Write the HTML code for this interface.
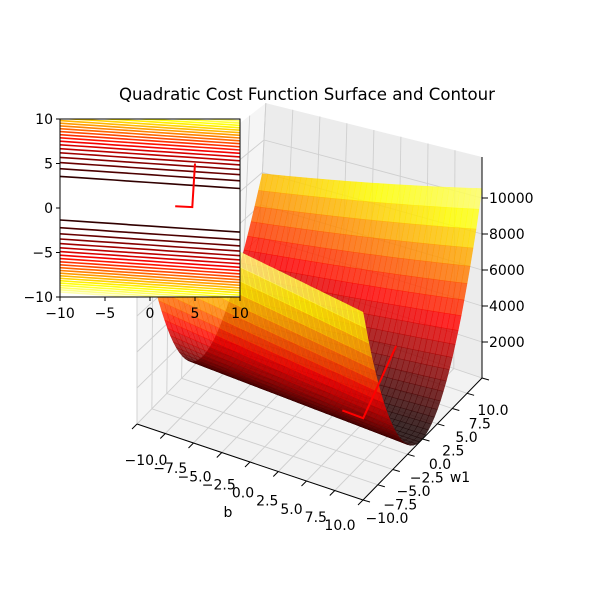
<!DOCTYPE html>
<html><head><meta charset="utf-8"><style>
html,body{margin:0;padding:0;background:#fff;}
svg{display:block;font-family:"DejaVu Sans","Liberation Sans",sans-serif;}
</style></head><body>
<svg id="chart" width="600" height="594" viewBox="0 0 600 594" xmlns="http://www.w3.org/2000/svg">
<text x="307" y="100" font-size="16.6" text-anchor="middle" fill="#000">Quadratic Cost Function Surface and Contour</text>
<g id="panes"></g>
<g id="surface"></g>
<g id="path3d"></g>
<g id="axes3d"></g>
<g id="inset"></g>
</svg>
<script>
// ---- data ----
const bTicks = [-10,-7.5,-5,-2.5,0,2.5,5,7.5,10];
const w1Ticks = [-10,-7.5,-5,-2.5,0,2.5,5,7.5,10];
const zTicks = [2000,4000,6000,8000,10000];
const pathB = [2.8, 4.7, 5.0];
const pathW1 = [0.2, 0.1, 5.0];
const insetTicks = [-10,-5,0,5,10];
const contourLevels = [600,1100,1600,2100,2600,3100,3600,4100,4600,5100,5600,6100,6600,7100,7600,8100,8600,9100,9600,10100,10600,11100];

const NS = "http://www.w3.org/2000/svg";
function mk(tag, attrs, parent){ const e=document.createElementNS(NS,tag); for(const k in attrs) e.setAttribute(k,attrs[k]); if(parent) parent.appendChild(e); return e; }

function center(b){ return 0.42 - 0.068*b; }
function cost(b,w1){ const d = w1 - center(b); return 100*d*d; }

const ZMAX = 12280;
function P(b,w1,z){
  const u=(b+10)/20, v=(w1+10)/20;
  const s = 1 + 0.1*(u - v);
  return [137 + u*226 + v*119 + 8*v*(1-u)*z/10000, 424 + u*76 - v*122 - z*0.018*s];
}
function hot(x){
  x=Math.max(0,Math.min(1,x));
  const r=Math.min(1,x/0.365), g=Math.max(0,Math.min(1,(x-0.365)/0.375)), b=Math.max(0,Math.min(1,(x-0.74)/0.26));
  return `rgb(${Math.round(r*255)},${Math.round(g*255)},${Math.round(b*255)})`;
}
const pt = p => p[0].toFixed(1)+","+p[1].toFixed(1);

// ---- panes ----
const panes = document.getElementById('panes');
function poly(pts, attrs, parent){ return mk('polygon', Object.assign({points: pts.map(pt).join(' ')}, attrs), parent); }
const floor = poly([P(-10,-10,0),P(10,-10,0),P(10,10,0),P(-10,10,0)],{fill:'#f2f2f2',stroke:'none'},panes);
 
const back = poly([P(-10,10,0),P(10,10,0),P(10,10,ZMAX),P(-10,10,ZMAX)],{fill:'#ececec',stroke:'none'},panes);
 
const left = poly([P(-10,-10,0),P(-10,10,0),P(-10,10,ZMAX),P(-10,-10,ZMAX)],{fill:'#f5f5f5',stroke:'none'},panes);
 
function line(a,b,attrs,parent){ return mk('line',Object.assign({x1:a[0].toFixed(1),y1:a[1].toFixed(1),x2:b[0].toFixed(1),y2:b[1].toFixed(1)},attrs),parent); }
const gs={stroke:'#cfcfcf','stroke-width':0.9};
bTicks.forEach(t=>{ line(P(t,-10,0),P(t,10,0),gs,panes); line(P(t,10,0),P(t,10,ZMAX),gs,panes); });
w1Ticks.forEach(t=>{ line(P(-10,t,0),P(10,t,0),gs,panes); line(P(-10,t,0),P(-10,t,ZMAX),gs,panes); });
zTicks.forEach(t=>{ line(P(-10,10,t),P(10,10,t),gs,panes); line(P(-10,-10,t),P(-10,10,t),gs,panes); });

// ---- surface ----
const surf = document.getElementById('surface');
const N=40, quads=[];
for(let i=0;i<N;i++) for(let j=0;j<N;j++){
  const b0=-10+20*i/N, b1=-10+20*(i+1)/N, w0=-10+20*j/N, w2=-10+20*(j+1)/N;
  const zs=[cost(b0,w0),cost(b1,w0),cost(b1,w2),cost(b0,w2)];
  const zav=(zs[0]+zs[1]+zs[2]+zs[3])/4;
  const u=(b0+b1+20)/40, v=(w0+w2+20)/40;
  quads.push({pts:[P(b0,w0,zs[0]),P(b1,w0,zs[1]),P(b1,w2,zs[2]),P(b0,w2,zs[3])], z:zav, depth: v - u - zav/40000});
}
quads.sort((a,b)=>b.depth-a.depth);
quads.forEach(q=>{
  const c=hot(q.z/11500*0.93+0.03);
  const p=poly(q.pts,{fill:c,stroke:c,'stroke-width':0.4,'fill-opacity':0.82,'stroke-opacity':0.82},surf);
  
  
});

// ---- path 3d ----
const p3 = document.getElementById('path3d');
const pl3 = mk('polyline',{points: pathB.map((b,i)=>pt(P(b,pathW1[i],cost(b,pathW1[i])))).join(' '), fill:'none', stroke:'#ff0000','stroke-width':2},p3);
 

// ---- 3d axes ----
const ax = document.getElementById('axes3d');
const ks={stroke:'#000','stroke-width':1};
line(P(-10,-10,0),P(10,-10,0),ks,ax);
line(P(10,-10,0),P(10,10,0),ks,ax);
line(P(10,10,0),P(10,10,ZMAX),ks,ax);
bTicks.forEach(t=>{
  const a=P(t,-10,0); const u=(t+10)/20;
  line(a,[a[0]-5,a[1]+5],ks,ax);
  const tx=mk('text',{x:(a[0]+9-32*u).toFixed(1),y:(a[1]+41-11*u).toFixed(1),'font-size':14,'text-anchor':'middle'},ax);
  tx.textContent=t.toFixed(1).replace('-','\u2212');
   
});
w1Ticks.forEach(t=>{
  const a=P(10,t,0); const v=(t+10)/20;
  line(a,[a[0]+7,a[1]+2],ks,ax);
  const tx=mk('text',{x:(a[0]+24-13*v).toFixed(1),y:(a[1]+23+14*v).toFixed(1),'font-size':14,'text-anchor':'middle'},ax);
  tx.textContent=t.toFixed(1).replace('-','\u2212');
   
});
zTicks.forEach(t=>{
  const a=P(10,10,t);
  line(a,[a[0]+6,a[1]],ks,ax);
  const tx=mk('text',{x:(a[0]+7).toFixed(1),y:(a[1]+5).toFixed(1),'font-size':14},ax);
  tx.textContent=String(t);
   
});
const bl=mk('text',{x:228,y:517,'font-size':14,'text-anchor':'middle'},ax); bl.textContent='b';
 
const wl=mk('text',{x:460,y:482,'font-size':14,'text-anchor':'middle'},ax); wl.textContent='w1';
 

// ---- inset contour ----
const ins = document.getElementById('inset');
const IX0=60, IX1=240, IY0=119, IY1=297;
const sx = b => IX0 + (b+10)/20*(IX1-IX0);
const sy = w => IY1 - (w+10)/20*(IY1-IY0);
mk('rect',{x:IX0,y:IY0,width:IX1-IX0,height:IY1-IY0,fill:'#fff'},ins);
const clip=mk('clipPath',{id:'insclip'},ins);
mk('rect',{x:IX0,y:IY0,width:IX1-IX0,height:IY1-IY0},clip);
const cg=mk('g',{'clip-path':'url(#insclip)'},ins);
contourLevels.forEach(L=>{
  const d=Math.sqrt(L/100);
  [1,-1].forEach(sg=>{
    const pts=[];
    for(let k=0;k<=10;k++){ const b=-10+2*k; pts.push([sx(b),sy(center(b)+sg*d)]); }
    const pl=mk('polyline',{points:pts.map(pt).join(' '),fill:'none',stroke:hot(L/11500*0.93+0.02),'stroke-width':1.6},cg);
     
  });
});
const ip=mk('polyline',{points:pathB.map((b,i)=>pt([sx(b),sy(pathW1[i])])).join(' '),fill:'none',stroke:'#ff0000','stroke-width':2},ins);
 
const fr=mk('rect',{x:IX0,y:IY0,width:IX1-IX0,height:IY1-IY0,fill:'none',stroke:'#000','stroke-width':1},ins);
 
insetTicks.forEach(t=>{
  line([sx(t),IY1],[sx(t),IY1+4],ks,ins);
  const tx=mk('text',{x:sx(t),y:IY1+21,'font-size':14,'text-anchor':'middle'},ins);
  tx.textContent=String(t).replace('-','\u2212');
   
  line([IX0-4,sy(t)],[IX0,sy(t)],ks,ins);
  const ty=mk('text',{x:IX0-7,y:sy(t)+5,'font-size':14,'text-anchor':'end'},ins);
  ty.textContent=String(t).replace('-','\u2212');
   
});
</script>
</body></html>
